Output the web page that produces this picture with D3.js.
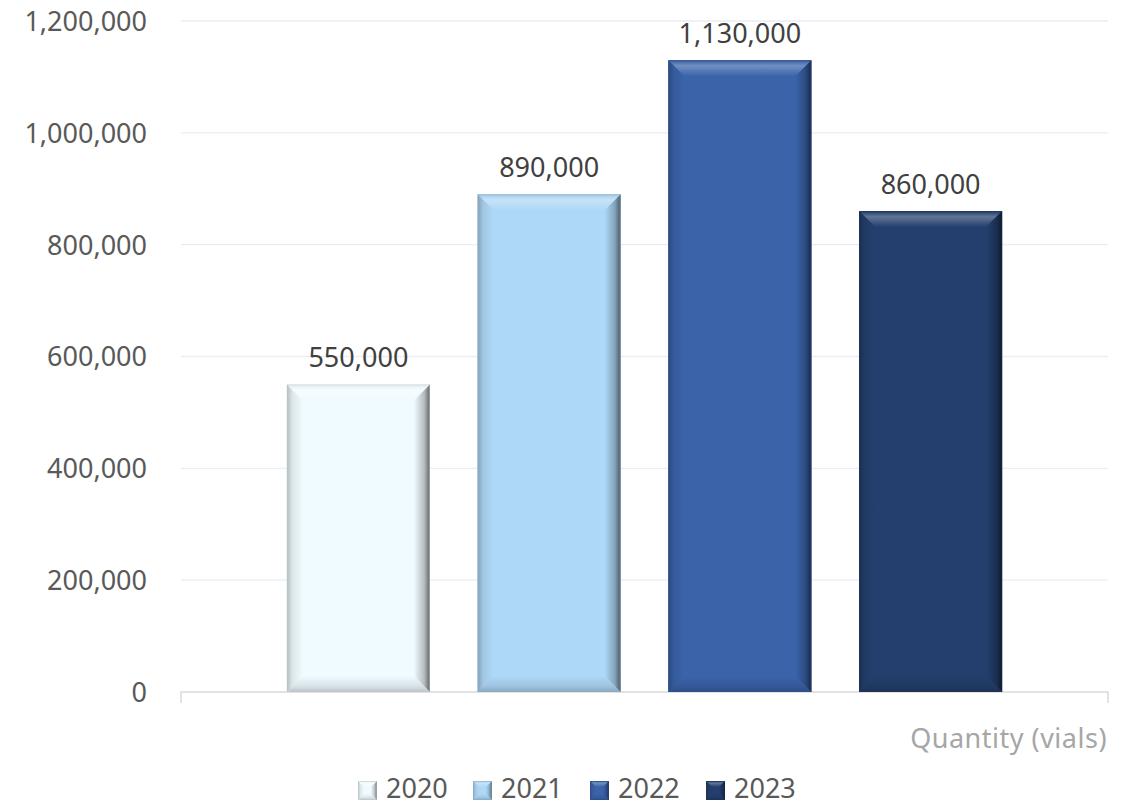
<!DOCTYPE html>
<html>
<head>
<meta charset="utf-8">
<script src="https://cdn.jsdelivr.net/npm/d3@7"></script>
<style>
  html, body { margin: 0; padding: 0; background: #ffffff; }
  svg { display: block; font-family: "Noto Sans", "Open Sans", sans-serif; }
</style>
</head>
<body>
<svg id="chart" width="1127" height="807"></svg>
<script>
// Annual quantities
const categories = ["2020", "2021", "2022", "2023"];
const values = [550000, 890000, 1130000, 860000];
const colors = ["#F0FBFF", "#AED8F7", "#3A63AA", "#243F6D"];
const yTicks = [0, 200000, 400000, 600000, 800000, 1000000, 1200000];
const unitLabel = "Quantity (vials)";

const svg = d3.select("#chart");
const defs = svg.append("defs");

const plotL = 181, plotR = 1108, plotT = 21, plotB = 692;

const x = d3.scaleBand(categories, [plotL, plotR]).paddingInner(0.25).paddingOuter(0.555);
const y = d3.scaleLinear([0, 1200000], [plotB, plotT]);
const fmt = d3.format(",");

// Gridlines
svg.append("g").selectAll("line")
  .data(yTicks.filter(d => d > 0))
  .join("line")
  .attr("x1", plotL).attr("x2", plotR)
  .attr("y1", d => y(d)).attr("y2", d => y(d))
  .attr("stroke", "#E9EDF5").attr("stroke-width", 1.3);

// Y axis labels
const yAxis = d3.axisLeft(y).tickValues(yTicks).tickFormat(fmt).tickSize(0).tickPadding(0);
const yg = svg.append("g").attr("transform", `translate(147,0)`).call(yAxis);
yg.select(".domain").remove();
yg.selectAll("text").attr("font-size", 27).attr("fill", "#595959")
  .attr("font-family", "'Noto Sans', sans-serif").attr("dy", "0.35em");

// Baseline with end ticks
svg.append("path")
  .attr("d", `M${plotL},${plotB + 11}V${plotB}H${plotR}V${plotB + 11}`)
  .attr("fill", "none").attr("stroke", "#D9D9D9").attr("stroke-width", 1.5);

// Beveled box: base rect plus four mitred edge faces with gradients
function mix(c, target, t) {
  return d3.interpolateRgb(c, target)(t);
}
function bevel(g, id, x0, y0, w, h, base, b) {
  const x1 = x0 + w, y1 = y0 + h;
  const faces = [
    { side: "top", pts: [[x0, y0], [x1, y0], [x1 - b, y0 + b], [x0 + b, y0 + b]],
      dir: [0, 0, 0, 1], stops: [mix(base, "#000", 0.06), mix(base, "#fff", 0.28), base] },
    { side: "bottom", pts: [[x0, y1], [x1, y1], [x1 - b, y1 - b], [x0 + b, y1 - b]],
      dir: [0, 1, 0, 0], stops: [mix(base, "#000", 0.22), mix(base, "#000", 0.1), base] },
    { side: "left", pts: [[x0, y0], [x0 + b, y0 + b], [x0 + b, y1 - b], [x0, y1]],
      dir: [0, 0, 1, 0], stops: [mix(base, "#000", 0.25), mix(base, "#000", 0.08), base] },
    { side: "right", pts: [[x1, y0], [x1 - b, y0 + b], [x1 - b, y1 - b], [x1, y1]],
      dir: [1, 0, 0, 0], stops: [mix(base, "#000", 0.6), mix(base, "#000", 0.25), base] }
  ];
  g.append("rect").attr("x", x0).attr("y", y0).attr("width", w).attr("height", h).attr("fill", base);
  faces.forEach(f => {
    const gid = `${id}-${f.side}`;
    const lg = defs.append("linearGradient").attr("id", gid)
      .attr("x1", f.dir[0]).attr("y1", f.dir[1]).attr("x2", f.dir[2]).attr("y2", f.dir[3]);
    lg.append("stop").attr("offset", "0%").attr("stop-color", f.stops[0]);
    lg.append("stop").attr("offset", "35%").attr("stop-color", f.stops[1]);
    lg.append("stop").attr("offset", "100%").attr("stop-color", f.stops[2]);
    g.append("polygon").attr("points", f.pts.map(p => p.join(",")).join(" "))
      .attr("fill", `url(#${gid})`);
  });
  g.append("rect").attr("x", x0 + 0.5).attr("y", y0 + 0.5).attr("width", w - 1).attr("height", h - 1)
    .attr("fill", "none").attr("stroke", mix(base, "#000", 0.2)).attr("stroke-opacity", 0.5).attr("stroke-width", 1);
}

// Bars
const bars = svg.append("g");
categories.forEach((c, i) => {
  const g = bars.append("g");
  bevel(g, `bar${i}`, x(c), y(values[i]), x.bandwidth(), y(0) - y(values[i]), colors[i], 16);
});

// Value labels
svg.append("g").selectAll("text")
  .data(categories)
  .join("text")
  .attr("x", d => x(d) + x.bandwidth() / 2)
  .attr("y", (d, i) => y(values[i]) - 17)
  .attr("text-anchor", "middle")
  .attr("font-size", 27).attr("fill", "#404040")
  .text((d, i) => fmt(values[i]));

// Unit label
svg.append("text")
  .attr("x", 1107).attr("y", 748)
  .attr("text-anchor", "end")
  .attr("font-size", 27).attr("letter-spacing", 0.5).attr("fill", "#A6A6A6")
  .text(unitLabel);

// Legend
const legendX = [358, 473, 590, 706];
const legend = svg.append("g");
categories.forEach((c, i) => {
  const g = legend.append("g");
  bevel(g, `leg${i}`, legendX[i], 781, 19, 19, colors[i], 6);
  g.append("text").attr("x", legendX[i] + 28).attr("y", 798)
    .attr("font-size", 27).attr("fill", "#595959").text(c);
});
</script>
</body>
</html>
